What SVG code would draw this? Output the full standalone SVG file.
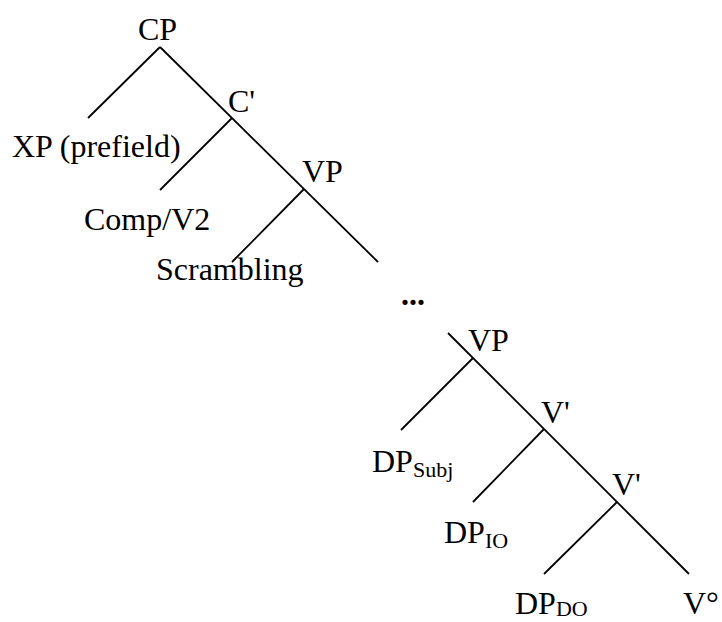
<svg xmlns="http://www.w3.org/2000/svg" width="722" height="622" viewBox="0 0 722 622">
<style>
text{font-family:"Liberation Serif","Times New Roman",serif;font-size:32px;fill:#000}
.sub{font-size:22px}
.dots{font-weight:bold}
.edges line{stroke:#000;stroke-width:1.8;stroke-linecap:butt}
</style>
<rect width="722" height="622" fill="#fff"/>
<g class="edges" id="connectors">
<line x1="160" y1="47" x2="88" y2="118"/>
<line x1="160" y1="47" x2="378" y2="262"/>
<line x1="232" y1="118" x2="160" y2="190"/>
<line x1="304" y1="189" x2="232" y2="262"/>
<line x1="448" y1="333" x2="689" y2="574"/>
<line x1="473" y1="358" x2="401" y2="430"/>
<line x1="544" y1="429" x2="473" y2="502"/>
<line x1="617" y1="502" x2="544" y2="574"/>
</g>
<g id="CP"><text x="138" y="40">CP</text></g>
<g id="Cbar"><text x="228" y="112">C'</text></g>
<g id="XP"><text x="12" y="157">XP (prefield)</text></g>
<g id="VP1"><text x="302" y="182">VP</text></g>
<g id="Comp"><text x="84" y="230">Comp/V2</text></g>
<g id="Scrambling"><text x="156" y="280">Scrambling</text></g>
<g id="Ellipsis"><text class="dots" x="401" y="305">...</text></g>
<g id="VP2"><text x="468" y="351">VP</text></g>
<g id="Vbar1"><text x="541" y="423">V'</text></g>
<g id="DPSubj"><text x="372" y="472">DP<tspan class="sub" dy="5">Subj</tspan></text></g>
<g id="Vbar2"><text x="612" y="495">V'</text></g>
<g id="DPIO"><text x="444" y="543">DP<tspan class="sub" dy="5">IO</tspan></text></g>
<g id="DPDO"><text x="515" y="614">DP<tspan class="sub" dy="2">DO</tspan></text></g>
<g id="V0"><text x="683" y="614">V°</text></g>
</svg>
